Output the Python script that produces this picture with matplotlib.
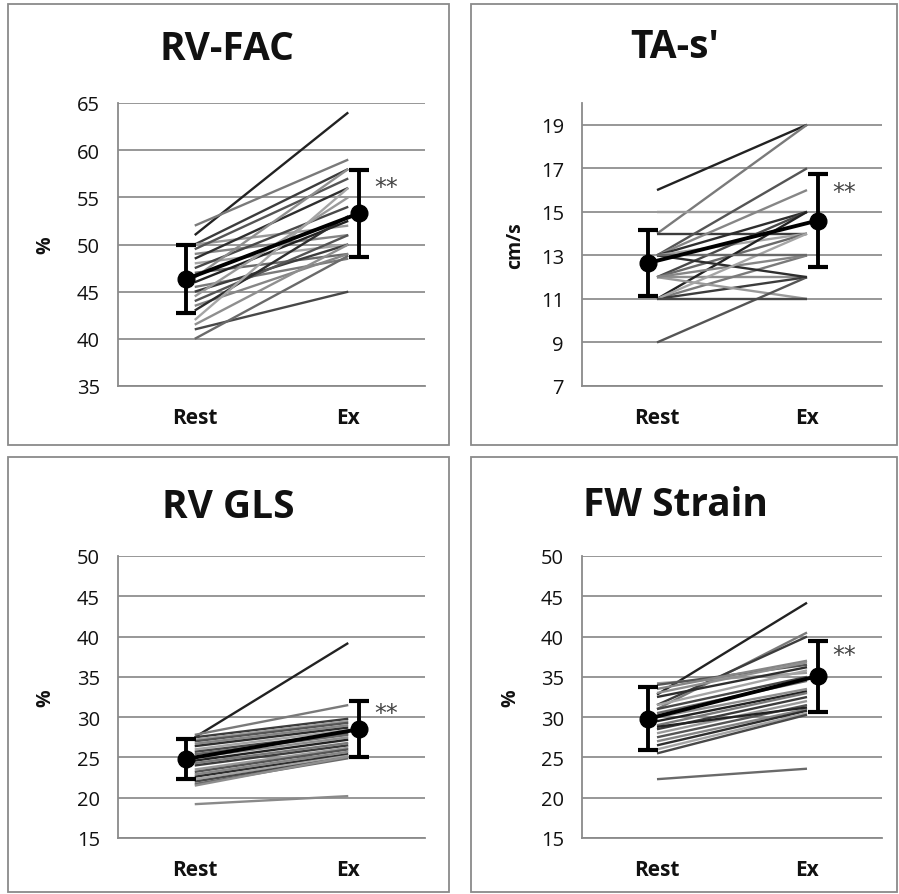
import matplotlib
matplotlib.use("Agg")
import matplotlib.pyplot as plt
from matplotlib.patches import Rectangle
import numpy as np

plt.rcParams['font.family'] = ['Open Sans', 'DejaVu Sans']

categories = ["Rest", "Ex"]

# RV-FAC (%)
fac_rest = [51, 52, 50, 50, 49.5, 49, 48.5, 48, 47.5, 47, 46.5, 46, 45.5, 45, 44.5, 44, 43.5, 43, 42, 41, 40, 41.5]
fac_ex = [64, 59, 58, 52, 57, 51, 56, 50, 54, 49, 58, 52.5, 48.5, 50, 55, 51, 49, 53, 56, 45, 48.8, 50]
fac_mean = [46.3, 53.3]
fac_sd = [3.6, 4.6]

# TA-s' (cm/s)
tas_rest = [16, 14, 14, 15, 13, 13, 13, 13, 12, 12, 12, 11, 11, 11, 12, 9, 12, 13, 11, 11, 13]
tas_ex = [19, 19, 14, 15, 17, 16, 15, 14, 15, 14, 12, 15, 13, 12, 11, 12, 13, 12, 14, 11, 13]
tas_mean = [12.65, 14.6]
tas_sd = [1.5, 2.15]

# RV GLS (%)
gls_rest = [27.5, 27.8, 27.5, 27.2, 27.0, 26.7, 26.4, 26.0, 25.7, 25.4, 25.0, 24.6, 24.3, 24.0, 23.5,
            23.2, 22.9, 22.6, 22.3, 22.0, 21.7, 21.5, 19.2]
gls_ex = [39.2, 31.5, 29.8, 29.5, 29.3, 29.0, 28.7, 28.4, 28.0, 27.8, 27.5, 27.2, 26.8, 26.5, 26.2,
          26.0, 25.7, 25.4, 25.2, 25.0, 24.9, 25.1, 20.2]
gls_mean = [24.8, 28.5]
gls_sd = [2.5, 3.45]

# FW Strain (%)
fws_rest = [32.8, 31.0, 31.5, 34.2, 34.0, 33.5, 32.5, 31.5, 31.0, 30.5, 30.0, 29.5, 29.0, 28.5, 28.0,
            27.5, 27.0, 26.5, 26.0, 25.5, 22.3, 33.0, 28.8]
fws_ex = [44.2, 40.5, 40.0, 35.5, 36.5, 37.0, 36.2, 35.8, 35.0, 34.5, 33.5, 33.2, 33.0, 32.5, 32.0,
          31.5, 31.0, 30.8, 30.5, 30.3, 23.6, 36.8, 31.2]
fws_mean = [29.8, 35.1]
fws_sd = [3.9, 4.4]

titles = ["RV-FAC", "TA-s'", "RV GLS", "FW Strain"]
ylabels = ["%", "cm/s", "%", "%"]

W, H = 899, 895
fig = plt.figure(figsize=(W / 100, H / 100), dpi=100)

def fx(px):
    return px / W

def fy(py):
    return 1 - py / H

# panel border boxes (pixel coords: x0, y0, x1, y1)
boxes = [(8, 5, 449, 446), (471, 5, 897, 446), (8, 458, 449, 893), (471, 458, 897, 893)]
for (x0, y0, x1, y1) in boxes:
    fig.patches.append(Rectangle((fx(x0), fy(y1)), fx(x1 - x0), (y1 - y0) / H,
                                 transform=fig.transFigure, fill=False,
                                 edgecolor='#8a8a8a', linewidth=1.3))

# axes rectangles (pixel coords: left, right, top, bottom)
axrects = [(118, 425, 104, 387), (582, 882, 104, 387), (118, 425, 557, 839), (582, 882, 557, 839)]
ylims = [(35, 65), (7, 20), (15, 50), (15, 50)]
yticks = [np.arange(35, 66, 5), np.arange(7, 20, 2), np.arange(15, 51, 5), np.arange(15, 51, 5)]
title_pos = [(227, 50), (675, 48), (228, 508), (675, 506)]
ylabel_x = [-0.205, -0.19, -0.205, -0.205]

panels = [
    (fac_rest, fac_ex, fac_mean, fac_sd),
    (tas_rest, tas_ex, tas_mean, tas_sd),
    (gls_rest, gls_ex, gls_mean, gls_sd),
    (fws_rest, fws_ex, fws_mean, fws_sd),
]

grays = ['#222222', '#7a7a7a', '#3c3c3c', '#9a9a9a', '#555555', '#868686', '#2e2e2e', '#a5a5a5',
         '#484848', '#6a6a6a', '#8f8f8f']
last_gray = '#8a8a8a'

for i, (rest, ex, mean, sd) in enumerate(panels):
    l, r, t, b = axrects[i]
    ax = fig.add_axes([fx(l), fy(b), fx(r - l), (b - t) / H])
    ax.set_xlim(0, 2)
    ax.set_ylim(*ylims[i])
    ax.set_yticks(yticks[i])
    ax.set_xticks([0.5, 1.5])
    ax.set_xticklabels(categories, fontweight='bold', fontsize=15)
    ax.tick_params(axis='y', length=0, pad=13, labelsize=14.5, labelcolor='#111111')
    ax.tick_params(axis='x', length=0, pad=15, labelcolor='#111111')
    for s in ['top', 'right']:
        ax.spines[s].set_visible(False)
    for s in ['left', 'bottom']:
        ax.spines[s].set_color('#8a8a8a')
        ax.spines[s].set_linewidth(1.3)
    ax.yaxis.grid(True, color='#8f8f8f', linewidth=1.3)
    ax.set_axisbelow(True)

    n = len(rest)
    for j, (a, c) in enumerate(zip(rest, ex)):
        col = grays[j % len(grays)]
        if i >= 2 and j == n - 1 - (1 if i == 3 else 0) and a < 23:
            col = last_gray
        ax.plot([0.5, 1.5], [a, c], color=col, linewidth=1.7,
                solid_capstyle='butt', zorder=2)

    mx = [0.5 - 0.06, 1.5 + 0.07]
    ax.errorbar(mx, mean, yerr=sd, color='black', linewidth=2.8, marker='o',
                markersize=12, capsize=7, capthick=3, elinewidth=2.8, zorder=5)
    ax.annotate("**", xy=(mx[1], mean[1] + 0.6 * sd[1]), xytext=(11, 0),
                textcoords='offset points', ha='left', va='center',
                fontsize=17, color='#444444', family='DejaVu Sans')

    ax.set_ylabel(ylabels[i], fontweight='bold', fontsize=14, color='#111111')
    ax.yaxis.set_label_coords(ylabel_x[i], 0.5)

    tx, ty = title_pos[i]
    fig.text(fx(tx), fy(ty), titles[i], ha='center', va='center',
             fontsize=28, fontweight='bold', color='#111111')

fig.savefig("out.png", dpi=100, facecolor='white')
